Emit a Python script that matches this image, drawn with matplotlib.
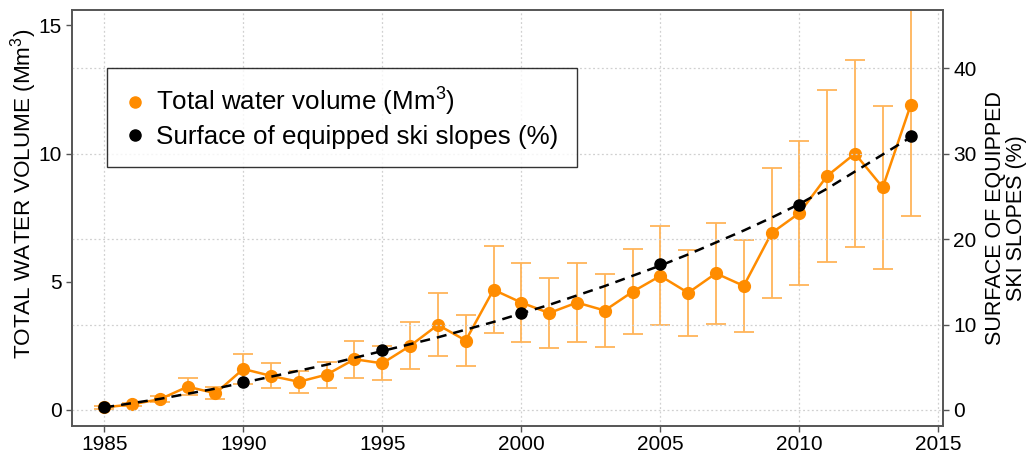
import matplotlib
matplotlib.use("Agg")
import matplotlib.pyplot as plt
from matplotlib.lines import Line2D

plt.rcParams.update({
    "font.family": "Liberation Sans",
    "mathtext.fontset": "custom",
    "mathtext.rm": "Liberation Sans",
    "mathtext.it": "Liberation Sans",
})

# total water volume (Mm3), with symmetric error half-widths
years = list(range(1985, 2015))
water = [0.10, 0.22, 0.42, 0.91, 0.65, 1.60, 1.33, 1.10, 1.38, 1.98,
         1.82, 2.50, 3.32, 2.71, 4.69, 4.19, 3.78, 4.19, 3.88, 4.61,
         5.23, 4.57, 5.33, 4.84, 6.90, 7.68, 9.13, 10.00, 8.68, 11.88]
water_err = [0.05, 0.06, 0.12, 0.33, 0.24, 0.58, 0.49, 0.43, 0.51, 0.73,
             0.66, 0.92, 1.23, 1.00, 1.69, 1.55, 1.38, 1.54, 1.42, 1.66,
             1.93, 1.68, 1.96, 1.79, 2.52, 2.80, 3.35, 3.64, 3.17, 4.33]

# surface of equipped ski slopes (%)
slope_years = [1985, 1990, 1995, 2000, 2005, 2010, 2014]
slopes = [0.3, 3.25, 7.0, 11.3, 17.1, 24.0, 32.0]

# dashed trend (%)
trend = [0.3, 0.8, 1.3, 1.9, 2.5, 3.2, 3.9, 4.6, 5.3, 6.1,
         6.9, 7.7, 8.5, 9.4, 10.3, 11.3, 12.3, 13.4, 14.5, 15.7,
         16.9, 18.2, 19.6, 21.0, 22.5, 24.1, 25.9, 27.9, 29.9, 31.9]

orange = "#FF8C00"
err_col = "#FFB459"

fig = plt.figure(figsize=(10.33, 4.55), dpi=100)
ax = fig.add_axes([0.0697, 0.0637, 0.843, 0.9143])
ax2 = ax.twinx()

ax.errorbar(years, water, yerr=water_err, fmt="none", ecolor=err_col,
            elinewidth=1.3, capsize=7, capthick=1.3, zorder=2)
ax.plot(years, water, color=orange, lw=1.8, marker="o", ms=8.5, zorder=3)

ax2.plot(years, trend, color="black", lw=1.8, dashes=(4, 2.8), zorder=3)
ax2.plot(slope_years, slopes, "o", color="black", ms=8, zorder=4)

ax.set_xlim(1983.84, 2015.16)
ax.set_ylim(-0.625, 15.6)
ax2.set_ylim(-1.875, 46.8)

ax.set_xticks(range(1985, 2016, 5))
ax.set_yticks([0, 5, 10, 15])
ax2.set_yticks([0, 10, 20, 30, 40])

# grid: vertical at years, horizontal at right-axis ticks
for x in range(1985, 2016, 5):
    ax.axvline(x, color="#d0d0d0", lw=0.9, ls=(0, (1.5, 2)), zorder=0)
for y in [0, 10, 20, 30, 40]:
    ax2.axhline(y, color="#d0d0d0", lw=0.9, ls=(0, (1.5, 2)), zorder=0)

for a in (ax, ax2):
    for s in a.spines.values():
        s.set_color("#555555")
        s.set_linewidth(1.2)
    a.tick_params(labelsize=15, length=4.5, width=1, color="#555555", pad=3)
ax.tick_params(axis="x", pad=2)

fig.text(24 / 1033, 1 - 194 / 455, "TOTAL WATER VOLUME (Mm$^3$)", fontsize=16.2,
         rotation=90, ha="center", va="center")
ax2.set_ylabel("SURFACE OF EQUIPPED\nSKI SLOPES (%)", fontsize=15.5,
               labelpad=6, linespacing=1.0)

handles = [Line2D([0], [0], ls="none", marker="o", color=orange, ms=8),
           Line2D([0], [0], ls="none", marker="o", color="black", ms=8)]
labels = ["Total water volume (Mm$^3$)", "Surface of equipped ski slopes (%)"]
leg = ax2.legend(handles, labels, loc="upper left",
                 bbox_to_anchor=(107 / 1033, 1 - 68 / 455),
                 bbox_transform=fig.transFigure,
                 fontsize=18.7, frameon=True, fancybox=False, edgecolor="black",
                 handletextpad=0.45, borderpad=0.7, labelspacing=0.25,
                 handlelength=0.75, borderaxespad=0)
leg.get_frame().set_linewidth(1.0)

fig.savefig("out.png", dpi=100)
